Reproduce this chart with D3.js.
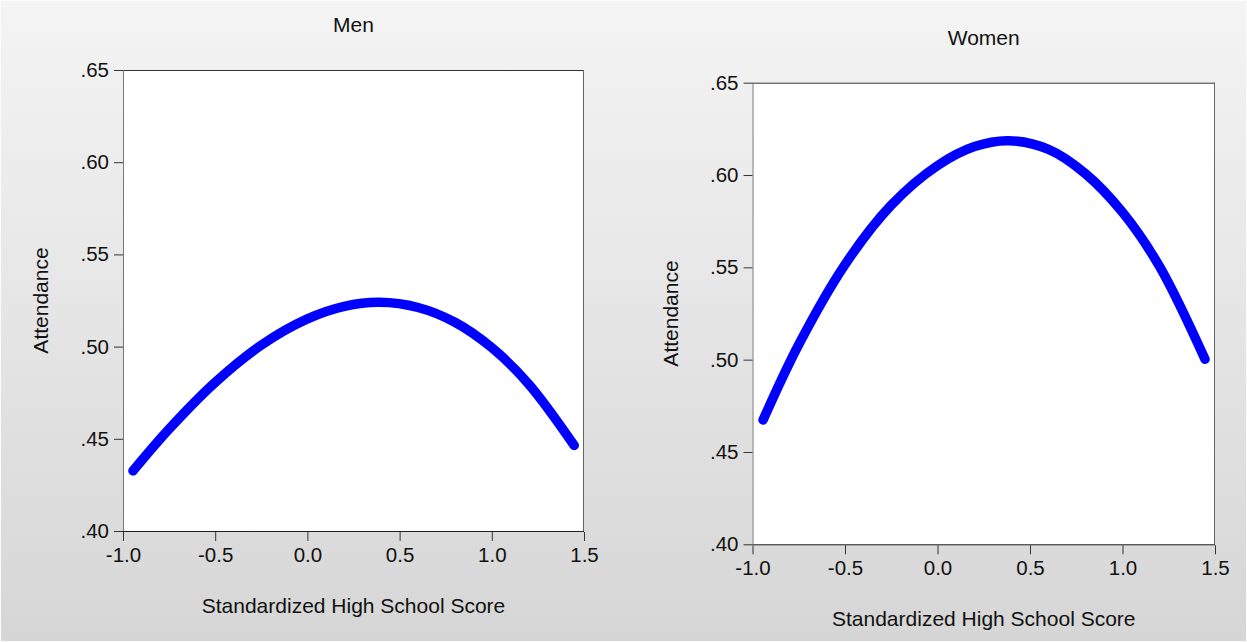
<!DOCTYPE html>
<html>
<head>
<meta charset="utf-8">
<script src="https://cdn.jsdelivr.net/npm/d3@7/dist/d3.min.js"></script>
<style>
  html, body { margin: 0; padding: 0; }
  body { width: 1247px; height: 642px; overflow: hidden; }
  svg { display: block; font-family: "Liberation Sans", Arial, sans-serif; }
</style>
</head>
<body>
<svg id="chart" width="1247" height="642"></svg>
<script>
// ---- data ----
const xTicks = [-1.0, -0.5, 0.0, 0.5, 1.0, 1.5];
const yTicks = [0.40, 0.45, 0.50, 0.55, 0.60, 0.65];

const menScore = [-0.946, -0.75, -0.5, -0.25, 0.0, 0.2, 0.39, 0.6, 0.8, 1.0, 1.2, 1.447];
const menAttendance = [0.4326, 0.4553, 0.4806, 0.5008, 0.5150, 0.5218, 0.5240, 0.5212, 0.5132, 0.4994, 0.4797, 0.4464];

const womenScore = [-0.943, -0.75, -0.5, -0.25, 0.0, 0.2, 0.383, 0.6, 0.8, 1.0, 1.2, 1.446];
const womenAttendance = [0.4673, 0.5082, 0.5515, 0.5837, 0.6051, 0.6154, 0.6186, 0.6139, 0.6007, 0.5798, 0.5505, 0.5002];

const panelTitles = ["Men", "Women"];
const xLabel = "Standardized High School Score";
const yLabel = "Attendance";

const svg = d3.select("#chart");
const W = 1247, H = 642;
const FONT = "21px";
const TICKFONT = "20.5px";

// background gradient
const defs = svg.append("defs");
const grad = defs.append("linearGradient").attr("id", "bg").attr("x1", 0).attr("y1", 0).attr("x2", 0).attr("y2", 1);
grad.append("stop").attr("offset", "0%").attr("stop-color", "#f4f4f4");
grad.append("stop").attr("offset", "100%").attr("stop-color", "#d6d6d6");
svg.append("rect").attr("width", W).attr("height", H).attr("fill", "url(#bg)");
svg.append("rect").attr("x", 0.5).attr("y", 0.5).attr("width", W - 1).attr("height", H - 1)
  .attr("fill", "none").attr("stroke", "#fbfbfb").attr("stroke-width", 1);

const panels = [
  { title: panelTitles[0], xs: menScore, ys: menAttendance, left: 123, top: 70, right: 584, bottom: 531 },
  { title: panelTitles[1], xs: womenScore, ys: womenAttendance, left: 752.5, top: 82.7, right: 1215, bottom: 544.3 }
];

const fmtY = d => d3.format(".2f")(d).replace(/^0/, "");
const fmtX = d => d3.format(".1f")(d).replace("\u2212", "-");

panels.forEach(p => {
  const x = d3.scaleLinear().domain([-1.0, 1.5]).range([p.left, p.right]);
  const y = d3.scaleLinear().domain([0.40, 0.65]).range([p.bottom, p.top]);
  const g = svg.append("g");

  // plot area
  g.append("rect").attr("x", p.left).attr("y", p.top)
    .attr("width", p.right - p.left).attr("height", p.bottom - p.top).attr("fill", "#ffffff");

  // frame
  g.append("line").attr("x1", p.left).attr("x2", p.right).attr("y1", p.top + 0.5).attr("y2", p.top + 0.5).attr("stroke", "#333");
  g.append("line").attr("x1", p.right - 0.5).attr("x2", p.right - 0.5).attr("y1", p.top).attr("y2", p.bottom).attr("stroke", "#666");
  g.append("line").attr("x1", p.left + 0.5).attr("x2", p.left + 0.5).attr("y1", p.top).attr("y2", p.bottom).attr("stroke", "#777");
  g.append("line").attr("x1", p.left).attr("x2", p.right).attr("y1", p.bottom + 0.5).attr("y2", p.bottom + 0.5).attr("stroke", "#222");

  // axes
  const yAxis = d3.axisLeft(y).tickValues(yTicks).tickFormat(fmtY).tickSize(9).tickSizeOuter(0).tickPadding(5);
  const ya = g.append("g").attr("transform", `translate(${p.left},0)`).call(yAxis);
  ya.select(".domain").remove();
  ya.selectAll(".tick line").attr("stroke", "#333");
  ya.selectAll(".tick text").attr("fill", "#111").style("font-size", TICKFONT)
    .style("font-family", "'Liberation Sans', Arial, sans-serif");

  const xAxis = d3.axisBottom(x).tickValues(xTicks).tickFormat(fmtX).tickSize(9).tickSizeOuter(0).tickPadding(6);
  const xa = g.append("g").attr("transform", `translate(0,${p.bottom + 1})`).call(xAxis);
  xa.select(".domain").remove();
  xa.selectAll(".tick line").attr("stroke", "#333");
  xa.selectAll(".tick text").attr("fill", "#111").style("font-size", TICKFONT)
    .style("font-family", "'Liberation Sans', Arial, sans-serif");

  // curve
  const pts = p.xs.map((v, i) => [v, p.ys[i]]);
  const line = d3.line().x(d => x(d[0])).y(d => y(d[1])).curve(d3.curveCatmullRom.alpha(0.5));
  g.append("path").datum(pts).attr("d", line)
    .attr("fill", "none").attr("stroke", "#0000ff").attr("stroke-width", 9.5)
    .attr("stroke-linecap", "round").attr("stroke-linejoin", "round");

  const cx = (p.left + p.right) / 2;
  const cy = (p.top + p.bottom) / 2;
  // title
  g.append("text").attr("x", cx).attr("y", p.top - 38).attr("text-anchor", "middle")
    .attr("fill", "#111").style("font-size", FONT).text(p.title);
  // x label
  g.append("text").attr("x", cx).attr("y", p.bottom + 82).attr("text-anchor", "middle")
    .attr("fill", "#111").style("font-size", FONT).text(xLabel);
  // y label
  g.append("text").attr("transform", `translate(${p.left - 75},${cy}) rotate(-90)`).attr("text-anchor", "middle")
    .attr("fill", "#111").style("font-size", FONT).text(yLabel);
});
</script>
</body>
</html>
